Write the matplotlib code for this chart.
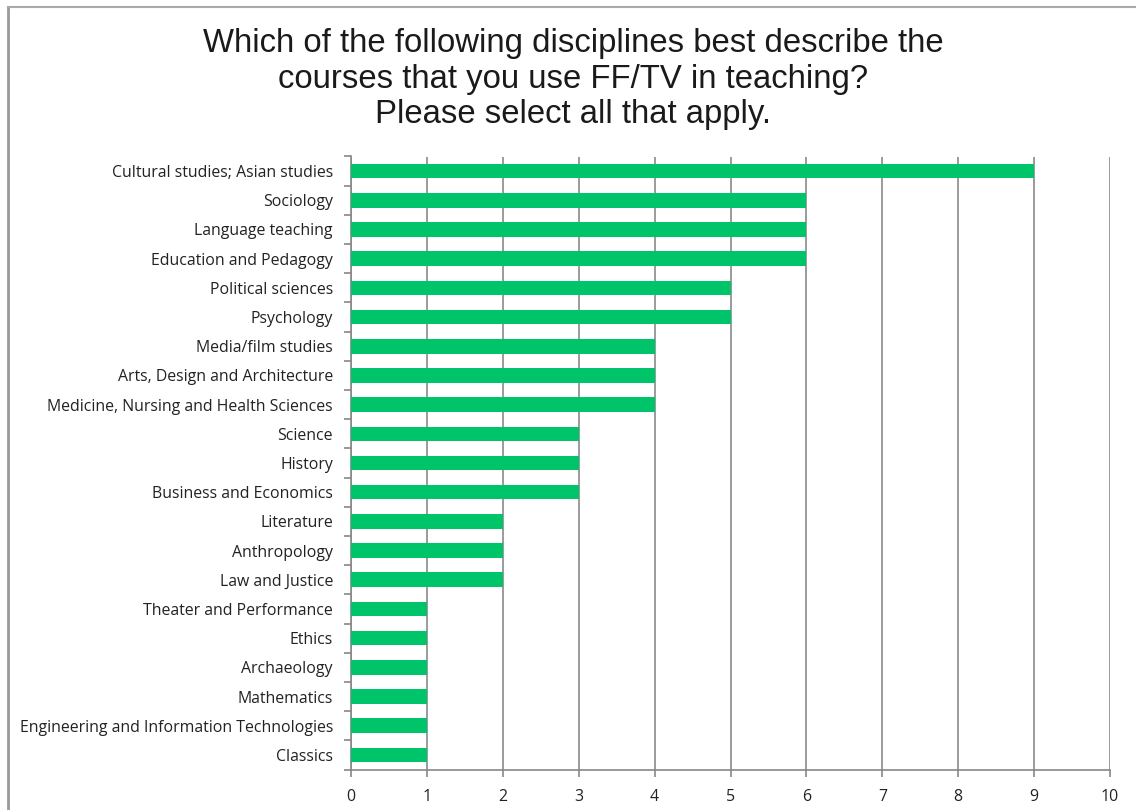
import matplotlib.pyplot as plt
import numpy as np
from matplotlib.lines import Line2D

disciplines = ['Cultural studies; Asian studies', 'Sociology', 'Language teaching',
               'Education and Pedagogy', 'Political sciences', 'Psychology',
               'Media/film studies', 'Arts, Design and Architecture',
               'Medicine, Nursing and Health Sciences', 'Science', 'History',
               'Business and Economics', 'Literature', 'Anthropology', 'Law and Justice',
               'Theater and Performance', 'Ethics', 'Archaeology', 'Mathematics',
               'Engineering and Information Technologies', 'Classics']
counts = [9, 6, 6, 6, 5, 5, 4, 4, 4, 3, 3, 3, 2, 2, 2, 1, 1, 1, 1, 1, 1]
x_ticks = list(range(0, 11))

title = ('Which of the following disciplines best describe the\n'
         'courses that you use FF/TV in teaching?\n'
         'Please select all that apply.')

fig = plt.figure(figsize=(11.36, 8.10), dpi=100)
ax = fig.add_axes([351/1136, 1 - 769.5/810, (1110-351)/1136, (769.5-156.5)/810])

y = np.arange(len(disciplines))
ax.barh(y, counts, height=0.5, color='#00c46a', zorder=3)
ax.set_ylim(len(disciplines) - 0.5, -0.5)
ax.set_xlim(0, 10)

ax.set_yticks(y)
ax.set_yticklabels(disciplines, fontsize=11.4, family='Open Sans', color='#222222')
ax.set_yticks(np.arange(-0.5, len(disciplines), 1), minor=True)
ax.tick_params(axis='y', which='major', length=0, pad=13)
ax.tick_params(axis='y', which='minor', length=5, color='#888888', width=1.2, direction='out')

ax.set_xticks(x_ticks)
ax.set_xticklabels([str(t) for t in x_ticks], fontsize=11.4, family='Open Sans', color='#222222')
ax.tick_params(axis='x', length=5, color='#888888', width=1.2, pad=9)

ax.grid(axis='x', color='#8a8a8a', linewidth=1.2, zorder=1)
for s in ['top', 'right']:
    ax.spines[s].set_visible(False)
for s in ['left', 'bottom']:
    ax.spines[s].set_color('#888888')
    ax.spines[s].set_linewidth(1.2)

fig.text(573/1136, 1 - 28/810, title, ha='center', va='top', fontsize=23.7,
         family='Liberation Sans', color='#1a1a1a', linespacing=1.19)

# frame lines at top and left of the slide
fig.add_artist(Line2D([8/1136, 8/1136], [0, 1 - 7/810], color='#999999', linewidth=2))
fig.add_artist(Line2D([8/1136, 1], [1 - 7/810, 1 - 7/810], color='#aaaaaa', linewidth=1.5))

fig.savefig('out.png', dpi=100)
